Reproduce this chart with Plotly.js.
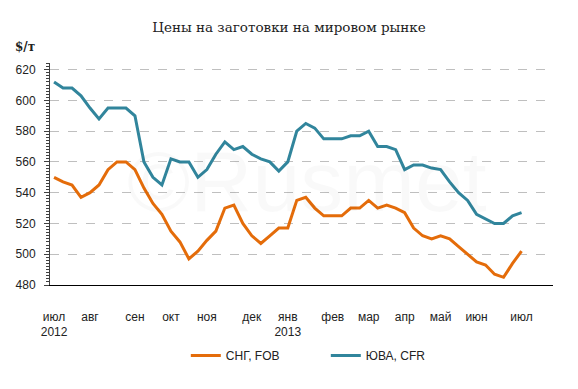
<!DOCTYPE html>
<html>
<head>
<meta charset="utf-8">
<script src="https://cdn.plot.ly/plotly-3.0.1.min.js"></script>
<style>html,body{margin:0;padding:0;background:#fff;}#chart{width:578px;height:389px;}</style>
</head>
<body>
<div id="chart"></div>
<script>
// Weekly prices, July 2012 - July 2013 ($/t)
const weekIndex = Array.from({length: 53}, (_, i) => i);
const cisFOB = [550,547,545,537,540,545,555,560,560,555,543,533,526,515,508,497,502,509,515,530,532,520,512,507,512,517,517,535,537,530,525,525,525,530,530,535,530,532,530,527,517,512,510,512,510,505,500,495,493,487,485,494,502];
const seaCFR = [612,608,608,603,595,588,595,595,595,590,560,550,545,562,560,560,550,555,565,573,568,570,565,562,560,554,560,580,585,582,575,575,575,577,577,580,570,570,568,555,558,558,556,555,547,540,535,526,523,520,520,525,527];
const monthTickIdx = [0,4,9,13,17,22,26,31,35,39,43,47,52];
const monthTickText = ['июл<br>2012','авг','сен','окт','ноя','дек','янв<br>2013','фев','мар','апр','май','июн','июл'];
const yTicks = [480,500,520,540,560,580,600,620];
const seriesNames = ['СНГ, FOB','ЮВА, CFR'];

const traces = [
  {x: weekIndex, y: cisFOB, name: seriesNames[0], type: 'scatter', mode: 'lines',
   line: {color: '#E46C0A', width: 3}},
  {x: weekIndex, y: seaCFR, name: seriesNames[1], type: 'scatter', mode: 'lines',
   line: {color: '#31859C', width: 3}}
];

const layout = {
  width: 578, height: 389,
  margin: {l: 50, r: 25, t: 63, b: 104},
  paper_bgcolor: '#fff', plot_bgcolor: '#fff',
  font: {family: 'Liberation Sans, Arial, sans-serif', size: 12, color: '#222'},
  title: {text: 'Цены на заготовки на мировом рынке', x: 0.5, xanchor: 'center',
          y: 1 - 27/389, yanchor: 'middle', yref: 'container',
          font: {family: 'DejaVu Serif, serif', size: 13.5, color: '#222'}},
  xaxis: {range: [-0.45, 55.5], tickmode: 'array', tickvals: monthTickIdx, ticktext: monthTickText,
          showgrid: false, zeroline: false, showline: true, linecolor: '#000', linewidth: 1.3,
          ticks: '', ticklabelstandoff: 20, tickfont: {size: 12, color: '#222'}, fixedrange: true},
  yaxis: {range: [480, 624.3], tickmode: 'array', tickvals: yTicks,
          showgrid: true, gridcolor: '#BFBFBF', griddash: 'dash', gridwidth: 1,
          zeroline: false, showline: true, linecolor: '#404040', linewidth: 1,
          ticks: 'outside', ticklen: 5, tickcolor: '#404040', ticklabelstandoff: 6,
          minor: {dtick: 2, ticks: 'outside', ticklen: 3, tickcolor: '#404040', showgrid: false},
          tickfont: {size: 12, color: '#222'}, fixedrange: true},
  showlegend: true,
  legend: {orientation: 'h', x: 0.27, xanchor: 'left', y: -0.3176, yanchor: 'middle',
           font: {size: 12, color: '#222'}, entrywidth: 95, entrywidthmode: 'pixels',
           itemwidth: 30, tracegroupgap: 0},
  annotations: [
    {text: '<b>$/т</b>', xref: 'paper', yref: 'paper', x: -0.0736, y: 1.0705,
     xanchor: 'left', yanchor: 'middle', showarrow: false,
     font: {family: 'DejaVu Serif, serif', size: 12, color: '#222'}},
    {text: '©Rusmet', xref: 'paper', yref: 'paper', x: 0.51, y: 0.47,
     xanchor: 'center', yanchor: 'middle', showarrow: false,
     font: {family: 'Liberation Sans, Arial, sans-serif', size: 86, color: 'rgba(0,0,0,0.025)'}}
  ]
};

Plotly.newPlot('chart', traces, layout, {displayModeBar: false, staticPlot: true});
</script>
</body>
</html>
